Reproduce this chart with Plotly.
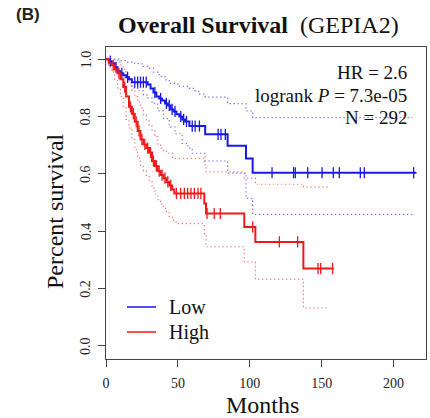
import numpy as np
import plotly.graph_objects as go

# ---------------- data ----------------
low_t = [0, 2, 4, 6, 8, 10, 12, 14, 16, 18, 29, 31, 33, 35, 37, 39, 41, 43, 45, 47,
         49, 51, 53, 55, 58, 69, 84.6, 97.4, 102, 216]
low_s = [1.0, 0.993, 0.986, 0.972, 0.958, 0.951, 0.944, 0.937, 0.93, 0.92, 0.912, 0.898,
         0.884, 0.87, 0.863, 0.856, 0.846, 0.839, 0.825, 0.818, 0.808, 0.80, 0.79, 0.783,
         0.767, 0.738, 0.698, 0.654, 0.604, 0.604]
low_cens = [3, 7, 11, 15, 20, 22, 24, 26, 28, 34, 38, 42, 44, 46, 48, 52, 54, 56, 60, 62,
            65, 78, 80, 83, 115.5, 130.5, 131.7, 140.3, 150.3, 158.1, 162.3, 176.9, 179.7, 214]
low_up_t = [0, 10, 15, 20, 25, 29, 33, 37, 41, 44, 50, 56.8, 62, 65, 69, 84.6, 97.4, 102, 213]
low_up_s = [1.0, 0.995, 0.99, 0.985, 0.975, 0.968, 0.955, 0.94, 0.928, 0.916, 0.905, 0.898,
            0.888, 0.878, 0.868, 0.845, 0.82, 0.796, 0.796]
low_lo_t = [0, 3, 6, 9, 12, 15, 18, 22, 26, 29, 32, 36, 40, 44, 48, 53, 57, 60, 69, 84.6,
            97.4, 102, 213]
low_lo_s = [1.0, 0.985, 0.965, 0.95, 0.935, 0.918, 0.9, 0.89, 0.875, 0.865, 0.846, 0.82,
            0.793, 0.764, 0.74, 0.706, 0.69, 0.672, 0.645, 0.603, 0.515, 0.459, 0.459]

high_t = [0, 2, 4, 6, 8, 10, 12, 14, 16, 18, 20, 22, 24, 26, 28, 30, 32, 34, 36, 38, 40,
          42, 44, 46, 47.5, 68.4, 69.6, 96.2, 103.9, 137.3, 158.5]
high_s = [1.0, 0.986, 0.979, 0.965, 0.951, 0.93, 0.903, 0.87, 0.834, 0.81, 0.782, 0.75,
          0.72, 0.703, 0.69, 0.675, 0.645, 0.628, 0.61, 0.596, 0.585, 0.572, 0.56, 0.546,
          0.532, 0.497, 0.462, 0.415, 0.363, 0.27, 0.27]
high_cens = [5, 9, 13, 17, 19, 21, 23, 25, 27, 29, 31, 33, 35, 37, 39, 41, 43, 45, 49, 52,
             54.5, 56.8, 59.1, 61.5, 64, 66, 70.3, 75.3, 79.5, 102, 120.6, 133.3, 147.5,
             149.3, 157.6]
high_up_t = [0, 4, 8, 10, 12, 14, 16, 18, 20, 22, 24, 26, 28, 30, 32, 34, 36, 38, 40, 42,
             46.3, 68.4, 69.6, 96.2, 103.9, 137.3, 155.4]
high_up_s = [1.0, 0.998, 0.99, 0.98, 0.965, 0.945, 0.92, 0.89, 0.87, 0.85, 0.83, 0.805,
             0.788, 0.77, 0.75, 0.73, 0.705, 0.69, 0.68, 0.672, 0.654, 0.632, 0.607, 0.585,
             0.564, 0.555, 0.555]
high_lo_t = [0, 2, 4, 6, 8, 10, 12, 14, 16, 18, 20, 22, 24, 26, 28, 30, 32, 34, 36, 38, 40,
             42, 44, 46.3, 48.7, 68.4, 69.6, 96.2, 103.9, 137.3, 155.4]
high_lo_s = [1.0, 0.97, 0.955, 0.93, 0.9, 0.87, 0.83, 0.79, 0.76, 0.72, 0.685, 0.655,
             0.63, 0.61, 0.595, 0.578, 0.55, 0.53, 0.51, 0.495, 0.48, 0.465, 0.452, 0.439,
             0.427, 0.39, 0.346, 0.293, 0.233, 0.133, 0.133]

x_ticks = [0, 50, 100, 150, 200]
y_ticks = [0.0, 0.2, 0.4, 0.6, 0.8, 1.0]
y_tick_labels = ["0.0", "0.2", "0.4", "0.6", "0.8", "1.0"]

group_names = ["Low", "High"]
stats_text = ["HR = 2.6", "logrank <i>P</i> = 7.3e-05", "N = 292"]

# ---------------- styling ----------------
BLUE = "rgb(25,25,235)"
RED = "rgb(240,25,25)"
BLUE_CI = "rgba(70,70,240,0.75)"
RED_CI = "rgba(240,70,70,0.7)"
SERIF = "Liberation Serif, Times New Roman, serif"

# layout geometry (pixels)
W, H = 430, 418
L, R, T, B = 106, 4, 47, 59
pw, ph = W - L - R, H - T - B


def px2paper_x(px):
    return (px - L) / pw


def px2paper_y(py):
    return (H - B - py) / ph


def step_value(ts, ss, t):
    idx = np.searchsorted(np.asarray(ts), t, side="right") - 1
    return np.asarray(ss)[idx]


fig = go.Figure()

groups = [
    (group_names[0], low_t, low_s, low_cens, low_up_t, low_up_s, low_lo_t, low_lo_s, BLUE, BLUE_CI),
    (group_names[1], high_t, high_s, high_cens, high_up_t, high_up_s, high_lo_t, high_lo_s, RED, RED_CI),
]

# CI lines first
for name, t, s, c, ut, us, lt, ls, col, cicol in groups:
    for xt, ys in ((ut, us), (lt, ls)):
        fig.add_trace(go.Scatter(x=xt, y=ys, mode="lines", line_shape="hv",
                                 line=dict(color=cicol, width=1.2, dash="1.3px,2.7px"),
                                 showlegend=False, hoverinfo="skip"))

for name, t, s, c, ut, us, lt, ls, col, cicol in groups:
    fig.add_trace(go.Scatter(x=t, y=s, mode="lines", line_shape="hv", name=name,
                             line=dict(color=col, width=2), showlegend=False))
    fig.add_trace(go.Scatter(x=c, y=[step_value(t, s, v) for v in c], mode="markers",
                             marker=dict(symbol="line-ns", size=8,
                                         line=dict(color=col, width=1.3)),
                             showlegend=False, hoverinfo="skip"))

axis_common = dict(showline=True, linecolor="#444", linewidth=1, mirror=True,
                   ticks="outside", ticklen=7, tickcolor="#444", tickwidth=1,
                   showgrid=False, zeroline=False,
                   tickfont=dict(family=SERIF, size=14, color="#222"))

fig.update_xaxes(range=[0, 222.6], tickvals=x_ticks, ticklabelstandoff=4, **axis_common)
fig.update_yaxes(range=[-0.0454, 1.0426], tickvals=y_ticks, showticklabels=False,
                 **axis_common)

annotations = []
shapes = []
# y tick labels (rotated, R style)
for v, lab in zip(y_ticks, y_tick_labels):
    annotations.append(dict(text=lab, xref="paper", yref="y", x=px2paper_x(86), y=v,
                            textangle=-90, xanchor="center", yanchor="middle",
                            showarrow=False, font=dict(family=SERIF, size=14, color="#222")))
# title
annotations.append(dict(text="<b>Overall Survival</b>\u00a0\u00a0(GEPIA2)", xref="paper", yref="paper",
                        x=px2paper_x(258), y=px2paper_y(25), xanchor="center", yanchor="middle",
                        showarrow=False, font=dict(family=SERIF, size=24, color="#111")))
annotations.append(dict(text="<b>(B)</b>", xref="paper", yref="paper",
                        x=px2paper_x(14), y=px2paper_y(15), xanchor="left", yanchor="middle",
                        showarrow=False, font=dict(family="Liberation Sans, Arial, sans-serif",
                                                   size=17, color="#222")))
# stats text
for i, txt in enumerate(stats_text):
    annotations.append(dict(text=txt, xref="paper", yref="paper",
                            x=px2paper_x(409), y=px2paper_y(72 + 23 * i),
                            xanchor="right", yanchor="middle", showarrow=False,
                            font=dict(family=SERIF, size=19, color="#111")))
# legend (drawn manually for exact spacing)
for i, (name, col) in enumerate(zip(group_names, [BLUE, RED])):
    yy = px2paper_y(307 + 25 * i)
    shapes.append(dict(type="line", xref="paper", yref="paper",
                       x0=px2paper_x(127), x1=px2paper_x(156), y0=yy, y1=yy,
                       line=dict(color=col, width=1.5)))
    annotations.append(dict(text=name, xref="paper", yref="paper",
                            x=px2paper_x(167), y=yy, xanchor="left", yanchor="middle",
                            showarrow=False, font=dict(family=SERIF, size=20, color="#111")))
# axis titles
annotations.append(dict(text="Months", xref="paper", yref="paper",
                        x=px2paper_x(262), y=px2paper_y(405), xanchor="center", yanchor="middle",
                        showarrow=False, font=dict(family=SERIF, size=24, color="#111")))
annotations.append(dict(text="Percent survival", xref="paper", yref="paper", textangle=-90,
                        x=px2paper_x(55), y=px2paper_y(211), xanchor="center", yanchor="middle",
                        showarrow=False, font=dict(family=SERIF, size=24, color="#111")))

fig.update_layout(
    width=W, height=H,
    margin=dict(l=L, r=R, t=T, b=B, pad=0),
    paper_bgcolor="white", plot_bgcolor="white",
    annotations=annotations, shapes=shapes,
    showlegend=False,
)

fig.write_html("out.html")
